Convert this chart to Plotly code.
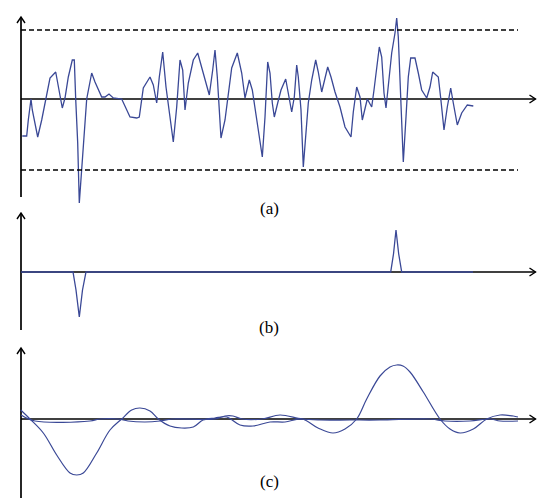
import plotly.graph_objects as go

W, H = 537, 498

# ---- data (x = sample position, value = signal amplitude) ----
a_x = [22.3, 26.7, 28.3, 31, 32.3, 37.7, 41.7, 45.7, 50, 55.7, 59, 62.3, 65, 68.3, 72.3, 74.3, 75.7, 77.7, 79.3,
       83.3, 86.7, 91.7, 95, 101.7, 105, 109, 113.3, 121.7, 130, 136.7, 139.3, 143.3, 150, 153.3, 156.7, 159.3,
       162.7, 166, 169.3, 173.3, 176.7, 180, 182.7, 185, 188.3, 193.3, 197.7, 203.3, 209.3, 212.7, 215, 217.3,
       219.3, 221, 225, 228.3, 231.7, 237.3, 241.7, 245, 249.3, 252.3, 255, 258.3, 262.3, 265, 267.7, 270,
       272.3, 274.3, 277.7, 281, 285.7, 288.3, 291.7, 294.3, 296.7, 298.3, 301, 303.3, 305, 308.3, 311.7, 315.7,
       318.3, 321.7, 327.7, 331, 335, 340, 345, 351, 353.3, 356.7, 360, 362.3, 367.3, 371.7, 374, 376.7, 379.3,
       381.7, 384, 386, 388.3, 391.7, 395, 396.7, 398.3, 400, 401.7, 403.3, 406, 408.3, 410.7, 415, 418.3,
       421.7, 426.7, 430, 432.7, 438.3, 440.7, 444, 447.3, 450.7, 453.3, 457.3, 461.7, 467.3, 473.3]
a_v = [-37, -37, -21, 0, -11, -38, -21, 0, 21, 27, 9, -9, 1, 22, 39, 39, 0, -44, -104,
       -44, 0, 26, 17, 2, 2, 5, 1, 0, -18, -19, -18, 11, 22, 14, -4, 22,
       47, 12, -14, -43, -8, 39, 29, -11, 16, 39, 46, 26, 4, 29, 49, 22,
       -14, -39, -21, 6, 31, 46, 26, 1, 19, 9, -11, -31, -58, -18, 37, 26,
       -4, -18, -4, 9, 20, 6, -13, 2, 34, 22, -11, -68, -44, -4, 19, 39,
       27, 7, 32, 22, 7, -8, -28, -38, -13, 12, 2, -21, 0, -8, 9, 32, 52,
       42, 6, -9, 11, 46, 66, 81, 62, 22, -24, -63, -18, 22, 41, 41, 26,
       9, 1, 12, 27, 22, 1, -31, -8, 11, -4, -26, -14, -6, -7]
a_upper = 69
a_lower = -71

b_x = [21, 73, 76, 79.3, 82.5, 86, 390.7, 393.5, 396, 398.7, 401.7, 473]
b_v = [0, 0, -18, -45, -18, 0, 0, 18, 42, 18, 0, 0]

c1_x = [20.7, 30, 43.3, 56.7, 70, 76.7, 83.3, 96.7, 110, 121.7, 131.7, 140, 150, 158.3, 170, 181.7, 193.3,
        203, 215, 226.7, 240, 253, 270, 285, 302, 318, 333, 345, 356.7, 366.7, 380, 390, 396.7, 403, 410,
        423.3, 440, 450, 460, 473.3, 486.7, 500, 513.3, 518]
c1_v = [9, 0, -14, -36, -54, -56, -54, -34, -11, 0, 9, 11, 8, 0, -7, -9, -8,
        -1, 1, 2, -6, -7, -3, -3, 0, -9, -14, -10, 0, 20, 43, 52, 54, 53, 47,
        27, 0, -10, -14, -10, 0, 4, 3, 2]
c2_x = [21, 35, 90, 100, 118, 128, 145, 160, 172, 215, 225, 233, 242, 262, 280, 302, 320, 350, 380,
        430, 445, 470, 490, 500, 518]
c2_v = [4, -2, -2, 0, 0, -2, -3, -2, 0, 0, 3, 3, 0, 0, 4, 0, -1, -1, -1,
        0, -2, -2, 0, -2, -2]

labels = ["(a)", "(b)", "(c)"]

# ---- layout helpers ----
X0 = 21  # pixel position of vertical axes
def dom(top, bottom):
    return [1 - bottom / H, 1 - top / H]

blue = "#3a4896"
fig = go.Figure()
sx = lambda xs: [x - X0 for x in xs]

fig.add_trace(go.Scatter(x=sx(a_x), y=a_v, mode="lines", line=dict(color=blue, width=1.3), yaxis="y"))
fig.add_trace(go.Scatter(x=sx(b_x), y=b_v, mode="lines", line=dict(color=blue, width=1.3), yaxis="y2"))
fig.add_trace(go.Scatter(x=sx(c2_x), y=c2_v, mode="lines", line=dict(color=blue, width=1.2, shape="spline"), yaxis="y3"))
fig.add_trace(go.Scatter(x=sx(c1_x), y=c1_v, mode="lines", line=dict(color=blue, width=1.2, shape="spline"), yaxis="y3"))

ax_common = dict(showgrid=False, zeroline=False, showticklabels=False, showline=False, ticks="", fixedrange=True)
fig.update_layout(
    width=W, height=H, margin=dict(l=0, r=0, t=0, b=0),
    paper_bgcolor="white", plot_bgcolor="white", showlegend=False,
    xaxis=dict(range=[-X0, W - X0], domain=[0, 1], **ax_common),
    yaxis=dict(range=[99 - 210, 99 - 10], domain=dom(10, 210), **ax_common),
    yaxis2=dict(range=[272 - 332, 272 - 212], domain=dom(212, 332), **ax_common),
    yaxis3=dict(range=[419 - 498, 419 - 340], domain=dom(340, 498), **ax_common),
)

shapes = []
axis_line = dict(color="black", width=1.7)
xend = W - X0 - 1.5
panels = [("y", -98, 82), ("y2", -58, 59), ("y3", -80, 71)]
for yr, vbot, vtop in panels:
    # vertical axis
    shapes.append(dict(type="line", xref="x", yref=yr, x0=0, x1=0, y0=vbot, y1=vtop, line=axis_line, layer="below"))
    shapes.append(dict(type="path", xref="x", yref=yr,
                       path=f"M -4 {vtop-6} L 0 {vtop} L 4 {vtop-6}", line=dict(color="black", width=1.4)))
    # horizontal axis
    shapes.append(dict(type="line", xref="x", yref=yr, x0=0, x1=xend, y0=0, y1=0, line=axis_line, layer="below"))
    shapes.append(dict(type="path", xref="x", yref=yr,
                       path=f"M {xend-6} 4 L {xend} 0 L {xend-6} -4", line=dict(color="black", width=1.4)))

for v in (a_upper, a_lower):
    shapes.append(dict(type="line", xref="x", yref="y", x0=0, x1=518 - X0, y0=v, y1=v,
                       line=dict(color="black", width=1.4, dash="5px,3px")))
fig.update_layout(shapes=shapes)

label_y = [208, 327, 481]
for lab, py in zip(labels, label_y):
    fig.add_annotation(text=lab, xref="paper", yref="paper", x=269 / W, y=1 - py / H,
                       showarrow=False, xanchor="center", yanchor="middle",
                       font=dict(family="Liberation Serif", size=17, color="black"))

fig.write_html("out.html", config={"displayModeBar": False},
               post_script="document.body.style.margin='0';document.body.style.overflow='hidden';")
